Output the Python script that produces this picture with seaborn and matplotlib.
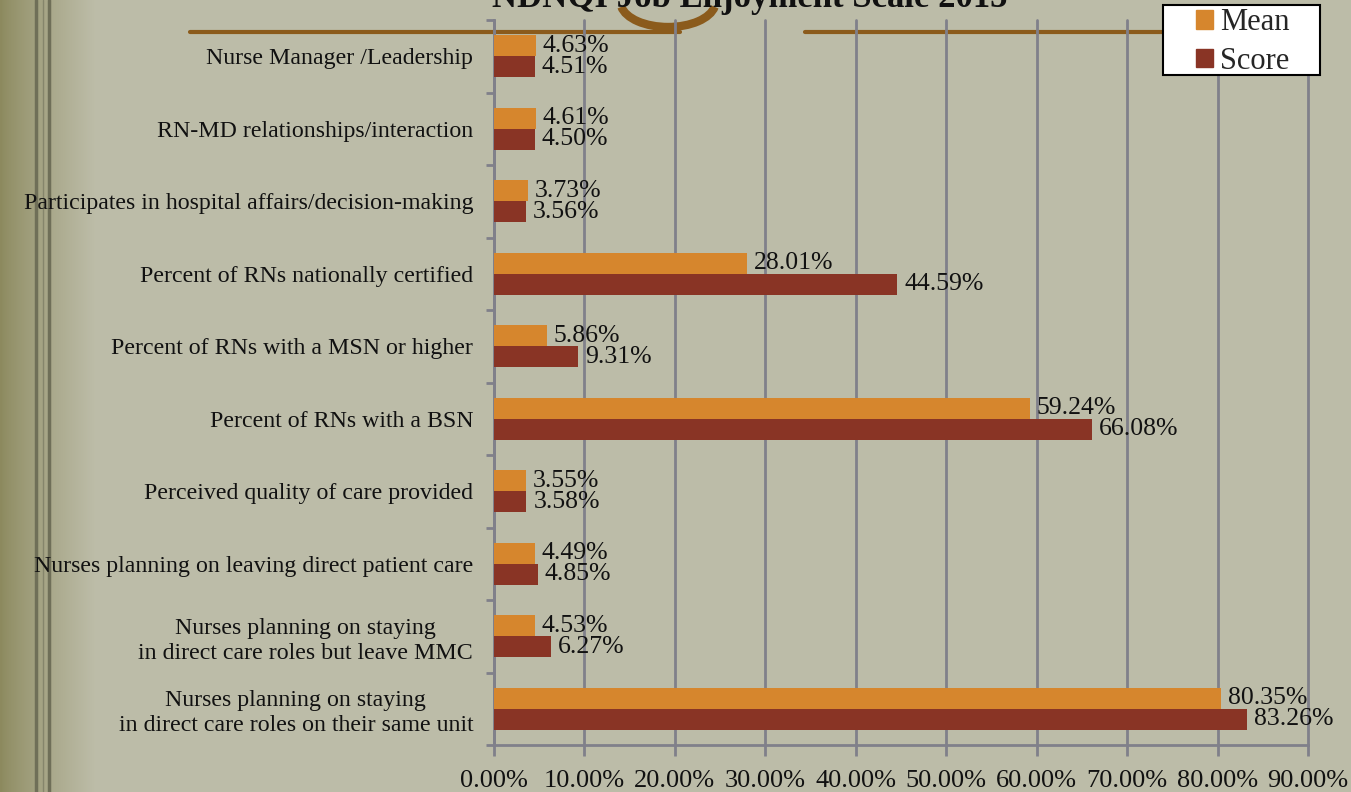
import numpy as np
import pandas as pd
import matplotlib.pyplot as plt
import matplotlib.patches as mpatches
import seaborn as sns

categories = [
    "Nurse Manager /Leadership",
    "RN-MD relationships/interaction",
    "Participates in hospital affairs/decision-making",
    "Percent of RNs nationally certified",
    "Percent of RNs with a MSN or higher",
    "Percent of RNs with a BSN",
    "Perceived quality of care provided",
    "Nurses planning on leaving direct patient care",
    "Nurses planning on staying\nin direct care roles but leave MMC",
    "Nurses planning on staying\nin direct care roles on their same unit",
]
mean_vals = [4.63, 4.61, 3.73, 28.01, 5.86, 59.24, 3.55, 4.49, 4.53, 80.35]
score_vals = [4.51, 4.50, 3.56, 44.59, 9.31, 66.08, 3.58, 4.85, 6.27, 83.26]
series = ["Mean", "Score"]
colors = ["#d6862d", "#893425"]
x_ticks = [0, 10, 20, 30, 40, 50, 60, 70, 80, 90]

df = pd.DataFrame({
    "category": categories * 2,
    "value": mean_vals + score_vals,
    "series": [series[0]] * len(categories) + [series[1]] * len(categories),
})

sns.set_theme(style="white")
plt.rcParams["font.family"] = ["Liberation Serif", "DejaVu Serif"]

W, H = 1351, 792
fig = plt.figure(figsize=(W / 100, H / 100), dpi=100)

# background: olive at the left edge fading into pale khaki
bg = fig.add_axes([0, 0, 1, 1], zorder=-10)
xs = np.linspace(0, 1, 600)
left = np.array([0.55, 0.54, 0.37])
mid = np.array([0.74, 0.74, 0.66])
t = np.clip(xs / 0.07, 0, 1)[:, None] ** 0.8
row = left * (1 - t) + mid * t
img = np.tile(row[None, :, :], (50, 1, 1))
bg.imshow(img, aspect="auto", extent=[0, 1, 0, 1])
for xp in [36, 49]:
    bg.axvline(xp / W, color="#6f6f58", lw=2.5)
bg.axvline(42.5 / W, color="#85856b", lw=1)
# decorative brown rules and flourish at the top
bg.plot([190 / W, 680 / W], [1 - 32 / H] * 2, color="#8b5b1c", lw=3)
bg.plot([805 / W, 1165 / W], [1 - 32 / H] * 2, color="#8b5b1c", lw=3)
bg.add_patch(mpatches.Arc((668 / W, 1 - 2 / H), 95 / W, 50 / H,
                          theta1=190, theta2=350, color="#8b5b1c", lw=6))
bg.set_xlim(0, 1)
bg.set_ylim(0, 1)
bg.axis("off")

ax = fig.add_axes([494 / W, 1 - 745 / H, (1308 - 494) / W, (745 - 20) / H])
ax.patch.set_alpha(0)

sns.barplot(data=df, y="category", x="value", hue="series", hue_order=series,
            palette=colors, orient="h", width=0.58, dodge=True, saturation=1,
            linewidth=0, ax=ax, legend=False, zorder=3)

for container in ax.containers:
    ax.bar_label(container, labels=[f"{v:.2f}%" for v in container.datavalues],
                 padding=5, fontsize=18.5, color="#111111")

ax.set_xlim(0, 90)
ax.set_xticks(x_ticks)
ax.set_xticklabels([f"{v:.2f}%" for v in x_ticks], fontsize=19, color="#111111")
ax.xaxis.grid(True, color="#80808a", lw=2, zorder=0, clip_on=False)
ax.set_axisbelow(True)
ax.set_ylim(len(categories) - 0.5, -0.5)
ax.set_yticks(range(len(categories)))
ax.set_yticklabels(categories, fontsize=17.2, color="#111111", ha="right",
                   multialignment="center", linespacing=1.25)
ax.set_yticks(np.arange(-0.5, len(categories), 1), minor=True)
ax.tick_params(axis="y", which="major", length=0, pad=15)
ax.tick_params(axis="y", which="minor", length=6, width=2, color="#80808a",
               direction="out", left=True)
ax.tick_params(axis="x", length=8, width=2, color="#80808a", direction="out",
               bottom=True, pad=10)
ax.set_xlabel("")
ax.set_ylabel("")
for side in ["top", "right"]:
    ax.spines[side].set_visible(False)
for side in ["left", "bottom"]:
    ax.spines[side].set_color("#80808a")
    ax.spines[side].set_linewidth(2)

fig.text(750 / W, 1 - 7 / H, "NDNQI Job Enjoyment Scale 2015", ha="center",
         va="baseline", fontsize=25, fontweight="bold", color="#111111")

# legend box sits above the plot's gridlines
box = mpatches.Rectangle((1163 / W, 1 - 75 / H), 157 / W, 70 / H,
                         transform=fig.transFigure, facecolor="white",
                         edgecolor="black", lw=1.5, zorder=8)
fig.add_artist(box)
handles = [mpatches.Patch(color=c, label=s) for s, c in zip(series, colors)]
leg = fig.legend(handles=handles, loc="center",
                 bbox_to_anchor=(1243 / W, 1 - 42 / H), fontsize=22,
                 frameon=False, handlelength=0.55, handleheight=0.55,
                 handletextpad=0.25, labelspacing=0.3)
leg.set_zorder(10)

fig.savefig("out.png", dpi=100)
